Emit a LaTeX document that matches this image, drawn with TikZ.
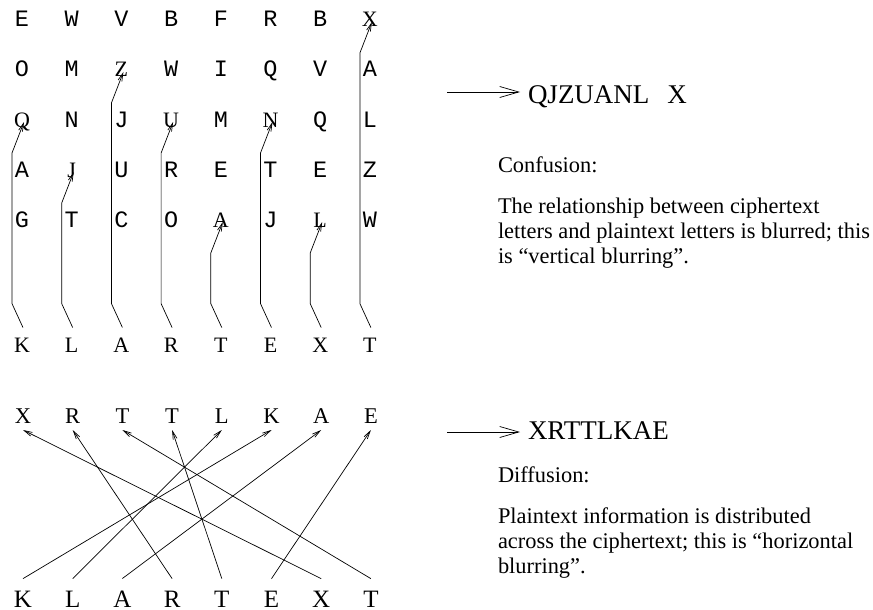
\documentclass[tikz,border=0pt]{standalone}
\usepackage{fontspec}
\setmainfont{Liberation Serif}
\newfontfamily\cour{Liberation Mono}
\usetikzlibrary{calc,arrows.meta}
\begin{document}
\begin{tikzpicture}[x=1pt,y=-1pt,
  every node/.style={inner sep=0pt,outer sep=0pt},
  tt/.style={anchor=base,font=\cour\fontsize{23.5}{23.5}\selectfont},
  tgt/.style={anchor=base,font=\fontsize{22}{22}\selectfont},
  plainrow/.style={anchor=base,font=\fontsize{22}{22}\selectfont},
  crow/.style={anchor=base,font=\fontsize{22.5}{22.5}\selectfont},
  prow/.style={anchor=base,font=\fontsize{25}{25}\selectfont},
  big/.style={anchor=base west,font=\fontsize{27}{27}\selectfont},
  body/.style={anchor=base west,font=\fontsize{22.4}{25}\selectfont},
  ln/.style={line width=0.7pt},
  tip/.style={ln,-{Straight Barb[length=8pt,width=4pt,line width=0.7pt]}},
  bigtip/.style={ln,-{Straight Barb[length=19pt,width=11pt,line width=0.7pt]}}]
\useasboundingbox (0,0) rectangle (873,610);
% ---------- top grid (rows 1..5) ----------
\foreach \r in {1,...,5}{
  \foreach \c in {0,...,7}{
    \coordinate (p-\r-\c) at ({22+49.7*\c},{27+50*(\r-1)});
  }
}
% ordinary typewriter letters
\foreach \r/\c/\ch in {1/0/E,1/1/W,1/2/V,1/3/B,1/4/F,1/5/R,1/6/B,
  2/0/O,2/1/M,2/3/W,2/4/I,2/5/Q,2/6/V,2/7/A,
  3/1/N,3/2/J,3/4/M,3/6/Q,3/7/L,
  4/0/A,4/2/U,4/3/R,4/4/E,4/5/T,4/6/E,4/7/Z,
  5/0/G,5/1/T,5/2/C,5/3/O,5/5/J,5/7/W}{
  \node[tt] (g-\r-\c) at (p-\r-\c) {\ch};
}
% target letters (serif)
\foreach \r/\c/\ch in {3/0/Q,4/1/J,2/2/Z,3/3/U,5/4/A,3/5/N,5/6/L,1/7/X}{
  \node[tgt] (g-\r-\c) at (p-\r-\c) {\ch};
}
% plaintext row of the top section
\foreach \ch [count=\c from 0] in {K,L,A,R,T,E,X,T}{
  \node[plainrow] (k-\c) at ({22+49.7*\c},352) {\ch};
}
% vertical connectors
\foreach \c/\r in {0/3,1/4,2/2,3/3,4/5,5/3,6/5,7/1}{
  \draw[tip] ($(k-\c.north)+(1,-10)$) -- ($(k-\c.north)+(-10,-34)$)
     -- ($(g-\r-\c.base)+(-10,26)$) -- ($(g-\r-\c.base)+(2,-5)$);
}
% ---------- bottom section ----------
\foreach \ch [count=\c from 0] in {X,R,T,T,L,K,A,E}{
  \node[crow] (c-\c) at ({23+49.7*\c},423) {\ch};
}
\foreach \ch [count=\c from 0] in {K,L,A,R,T,E,X,T}{
  \node[prow] (q-\c) at ({23+49.7*\c},607) {\ch};
}
\foreach \a/\b in {0/5,1/4,2/6,3/1,4/3,5/7,6/0,7/2}{
  \draw[tip] ($(q-\a.north)+(0,-12)$) -- ($(c-\b.base)+(0,7)$);
}
% ---------- right side ----------
\coordinate (a1s) at (447,92);
\coordinate (a1e) at (520,92);
\draw[bigtip] (a1s) -- (a1e);
\node[big] (res1) at (528,103) {QJZUANL\hspace{18pt}X};
\node[body] (conf) at (498,172) {Confusion:};
\node[body] (cl1) at (498,213) {The relationship between ciphertext};
\node[body] (cl2) at (498,238) {letters and plaintext letters is blurred; this};
\node[body] (cl3) at (498,263) {is “vertical blurring”.};

\coordinate (a2s) at (447,432);
\coordinate (a2e) at (520,432);
\draw[bigtip] (a2s) -- (a2e);
\node[big] (res2) at (528,439) {XRTTLKAE};
\node[body] (diff) at (498,482) {Diffusion:};
\node[body] (dl1) at (498,523) {Plaintext information is distributed};
\node[body] (dl2) at (498,548) {across the ciphertext; this is “horizontal};
\node[body] (dl3) at (498,573) {blurring”.};
\end{tikzpicture}
\end{document}
